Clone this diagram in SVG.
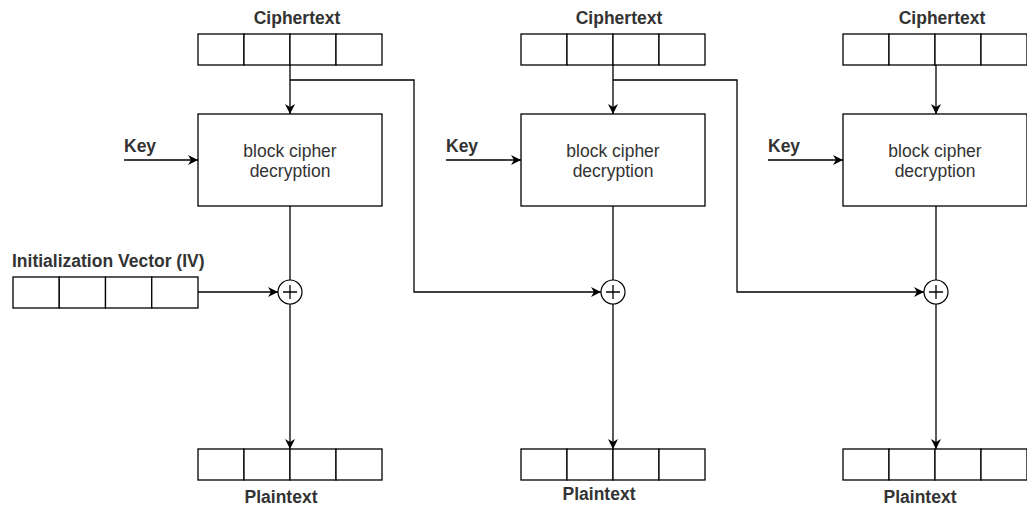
<svg xmlns="http://www.w3.org/2000/svg" width="1027" height="508" viewBox="0 0 1027 508">
  <style>
    .cell { fill: #ffffff; stroke: #000000; stroke-width: 1.3; }
    .box { fill: #ffffff; stroke: #000000; stroke-width: 1.3; }
    .wire { fill: none; stroke: #000000; stroke-width: 1.3; }
    .lbl { font-family: "Liberation Sans", Arial, sans-serif; font-size: 17.5px; font-weight: bold; fill: #333333; }
    .inner { font-family: "Liberation Sans", Arial, sans-serif; font-size: 17.5px; fill: #333333; text-anchor: middle; }
    .xor { fill: #ffffff; stroke: #000000; stroke-width: 1.2; }
  </style>
  <defs>
    <marker id="arrow" viewBox="0 0 10 10" refX="10" refY="5" markerWidth="10" markerHeight="10" markerUnits="userSpaceOnUse" orient="auto">
      <path d="M0,0 L10,5 L0,10 L3,5 Z" fill="#000000"/>
    </marker>
    <!-- four-cell register -->
    <g id="reg">
      <rect class="cell" x="0" y="0" width="46" height="31"/>
      <rect class="cell" x="46" y="0" width="46" height="31"/>
      <rect class="cell" x="92" y="0" width="46" height="31"/>
      <rect class="cell" x="138" y="0" width="46" height="31"/>
    </g>
  </defs>
  <rect width="1027" height="508" fill="#ffffff"/>

  <!-- connectors -->
  <g id="connectors">
    <!-- stage 1 -->
    <line class="wire" x1="290" y1="65" x2="290" y2="114" marker-end="url(#arrow)"/>
    <line class="wire" x1="124" y1="160" x2="198" y2="160" marker-end="url(#arrow)"/>
    <line class="wire" x1="290" y1="206" x2="290" y2="280"/>
    <line class="wire" x1="198" y1="292" x2="278" y2="292" marker-end="url(#arrow)"/>
    <line class="wire" x1="290" y1="304" x2="290" y2="449" marker-end="url(#arrow)"/>
    <polyline class="wire" points="290,80 414,80 414,292 601,292" marker-end="url(#arrow)"/>
    <!-- stage 2 -->
    <line class="wire" x1="613" y1="65" x2="613" y2="114" marker-end="url(#arrow)"/>
    <line class="wire" x1="446" y1="160" x2="521" y2="160" marker-end="url(#arrow)"/>
    <line class="wire" x1="613" y1="206" x2="613" y2="280"/>
    <line class="wire" x1="613" y1="304" x2="613" y2="449" marker-end="url(#arrow)"/>
    <polyline class="wire" points="613,80 737,80 737,292 924,292" marker-end="url(#arrow)"/>
    <!-- stage 3 -->
    <line class="wire" x1="936" y1="65" x2="936" y2="114" marker-end="url(#arrow)"/>
    <line class="wire" x1="768" y1="160" x2="843" y2="160" marker-end="url(#arrow)"/>
    <line class="wire" x1="936" y1="206" x2="936" y2="280"/>
    <line class="wire" x1="936" y1="304" x2="936" y2="449" marker-end="url(#arrow)"/>
  </g>

  <!-- stage 1 -->
  <g id="ct1">
    <text class="lbl" x="297" y="24" text-anchor="middle">Ciphertext</text>
    <use href="#reg" x="198" y="34"/>
  </g>
  <g id="key1"><text class="lbl" x="124" y="152">Key</text></g>
  <g id="dec1">
    <rect class="box" x="198" y="114" width="184" height="92"/>
    <text class="inner" x="290" y="157">block cipher</text>
    <text class="inner" x="290" y="177">decryption</text>
  </g>
  <g id="iv">
    <text class="lbl" x="12" y="267">Initialization Vector (IV)</text>
    <use href="#reg" x="13" y="277" transform="translate(13 277) scale(1.0054 1) translate(-13 -277)"/>
  </g>
  <g id="xor1">
    <circle class="xor" cx="290" cy="292" r="12"/>
    <path class="wire" d="M283,292 H297 M290,285 V299"/>
  </g>
  <g id="pt1">
    <use href="#reg" x="198" y="449"/>
    <text class="lbl" x="281" y="503" text-anchor="middle">Plaintext</text>
  </g>

  <!-- stage 2 -->
  <g id="ct2">
    <text class="lbl" x="619" y="24" text-anchor="middle">Ciphertext</text>
    <use href="#reg" x="521" y="34"/>
  </g>
  <g id="key2"><text class="lbl" x="446" y="152">Key</text></g>
  <g id="dec2">
    <rect class="box" x="521" y="114" width="184" height="92"/>
    <text class="inner" x="613" y="157">block cipher</text>
    <text class="inner" x="613" y="177">decryption</text>
  </g>
  <g id="xor2">
    <circle class="xor" cx="613" cy="292" r="12"/>
    <path class="wire" d="M606,292 H620 M613,285 V299"/>
  </g>
  <g id="pt2">
    <use href="#reg" x="521" y="449"/>
    <text class="lbl" x="599" y="500" text-anchor="middle">Plaintext</text>
  </g>

  <!-- stage 3 -->
  <g id="ct3">
    <text class="lbl" x="942" y="24" text-anchor="middle">Ciphertext</text>
    <use href="#reg" x="843" y="34"/>
  </g>
  <g id="key3"><text class="lbl" x="768" y="152">Key</text></g>
  <g id="dec3">
    <rect class="box" x="843" y="114" width="184" height="92"/>
    <text class="inner" x="935" y="157">block cipher</text>
    <text class="inner" x="935" y="177">decryption</text>
  </g>
  <g id="xor3">
    <circle class="xor" cx="936" cy="292" r="12"/>
    <path class="wire" d="M929,292 H943 M936,285 V299"/>
  </g>
  <g id="pt3">
    <use href="#reg" x="843" y="449"/>
    <text class="lbl" x="920" y="503" text-anchor="middle">Plaintext</text>
  </g>
</svg>
